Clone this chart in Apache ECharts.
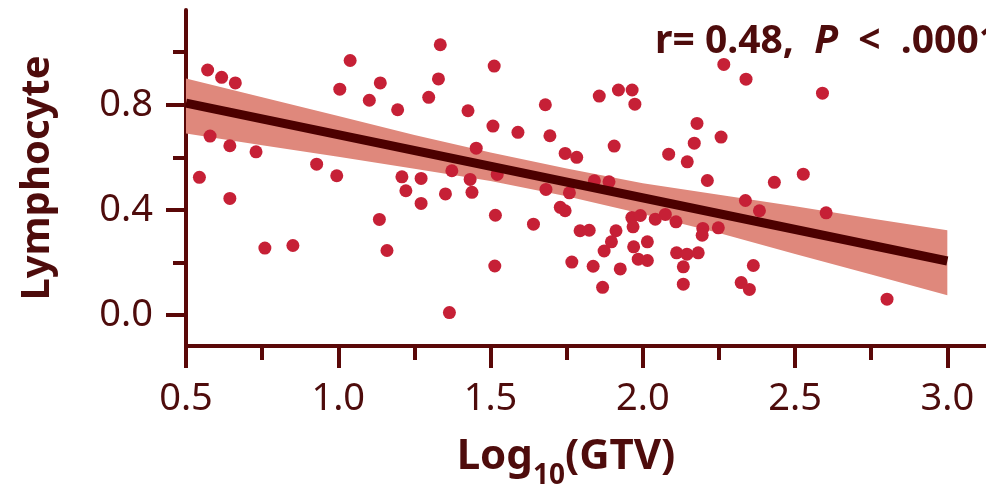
<!DOCTYPE html>
<html>
<head>
<meta charset="utf-8">
<title>Lymphocyte vs Log10(GTV)</title>
<script src="https://cdn.jsdelivr.net/npm/echarts@6/dist/echarts.min.js"></script>
<style>
  html, body { margin: 0; padding: 0; background: #fff; }
  #chart { width: 986px; height: 488px; }
</style>
</head>
<body>
<div id="chart"></div>
<script>
// points: log10(GTV) and lymphocyte value
var gtvLog = [
  0.544, 0.571, 0.617, 0.662, 0.579, 0.644, 0.644, 0.730, 0.759, 0.851,
  0.929, 0.995, 1.005, 1.039, 1.102, 1.138, 1.135, 1.160, 1.195, 1.209,
  1.222, 1.272, 1.272, 1.297, 1.329, 1.335, 1.352, 1.373, 1.365, 1.426,
  1.433, 1.439, 1.453, 1.508, 1.512, 1.516, 1.522, 1.514, 1.590, 1.641,
  1.680, 1.695, 1.682, 1.745, 1.729, 1.745, 1.759, 1.783, 1.767, 1.794,
  1.824, 1.837, 1.841, 1.857, 1.868, 1.873, 1.889, 1.897, 1.906, 1.912,
  1.920, 1.926, 1.964, 1.965, 1.970, 1.968, 1.974, 1.985, 1.992, 2.015,
  2.015, 2.041, 2.074, 2.085, 2.109, 2.111, 2.133, 2.133, 2.146, 2.145,
  2.169, 2.178, 2.182, 2.197, 2.195, 2.212, 2.248, 2.257, 2.266, 2.323,
  2.337, 2.339, 2.350, 2.363, 2.383, 2.432, 2.527, 2.590, 2.602, 2.802
]
var lymphocyte = [
  0.524, 0.932, 0.904, 0.883, 0.681, 0.644, 0.444, 0.621, 0.255, 0.265,
  0.574, 0.530, 0.859, 0.968, 0.817, 0.883, 0.364, 0.246, 0.781, 0.526,
  0.473, 0.520, 0.425, 0.828, 0.898, 1.028, 0.461, 0.549, 0.010, 0.777,
  0.516, 0.467, 0.635, 0.719, 0.947, 0.380, 0.535, 0.187, 0.695, 0.346,
  0.800, 0.682, 0.478, 0.615, 0.410, 0.397, 0.465, 0.600, 0.202, 0.321,
  0.323, 0.186, 0.511, 0.833, 0.106, 0.244, 0.507, 0.279, 0.643, 0.321,
  0.856, 0.176, 0.371, 0.856, 0.260, 0.336, 0.802, 0.213, 0.379, 0.208,
  0.279, 0.365, 0.383, 0.612, 0.355, 0.237, 0.184, 0.118, 0.583, 0.232,
  0.654, 0.729, 0.237, 0.330, 0.304, 0.512, 0.332, 0.677, 0.953, 0.124,
  0.436, 0.897, 0.098, 0.189, 0.397, 0.505, 0.536, 0.844, 0.389, 0.061
]

// fitted line end points
var fitX = [0.5, 3.0]
var fitY = [0.806, 0.206]

// confidence band edges
var bandX = [0.5, 0.75, 1.0, 1.25, 1.5, 1.75, 2.0, 2.25, 2.5, 2.75, 3.0]
var bandUpper = [0.900, 0.828, 0.757, 0.685, 0.618, 0.558, 0.502, 0.458, 0.414, 0.368, 0.323]
var bandLower = [0.691, 0.646, 0.602, 0.557, 0.510, 0.452, 0.385, 0.312, 0.233, 0.155, 0.076]

// ticks
var xMajorTicks = [0.5, 1.0, 1.5, 2.0, 2.5, 3.0]
var xMinorTicks = [0.75, 1.25, 1.75, 2.25, 2.75]
var yMajorTicks = [0.0, 0.4, 0.8]
var yMinorTicks = [0.2, 0.6, 1.0]

var AXIS_COLOR = '#5a0808'
var TEXT_COLOR = '#4e0c0c'
var FONT = '"Noto Sans", "DejaVu Sans", sans-serif'

var chart = echarts.init(document.getElementById('chart'), null, { renderer: 'canvas' })

var points = gtvLog.map(function (x, i) { return [x, lymphocyte[i]] })
var bandData = bandX.map(function (x, i) { return [x, bandLower[i], bandUpper[i]] })
var fitData = fitX.map(function (x, i) { return [x, fitY[i]] })

var xMin = 0.5
var xMax = 3.127
var yMin = -0.117
var yMax = 1.16

// draws the whole band once, as one polygon, through the axis scales
function renderBand(params, api) {
  if (params.dataIndex !== 0) return null
  var upper = []
  var lower = []
  for (var i = 0; i < bandX.length; i++) {
    upper.push(api.coord([bandX[i], bandUpper[i]]))
    lower.unshift(api.coord([bandX[i], bandLower[i]]))
  }
  return {
    type: 'polygon',
    shape: { points: upper.concat(lower) },
    style: { fill: '#df887c' },
    silent: true
  }
}

function axisBase(extra) {
  return Object.assign({
    type: 'value',
    splitLine: { show: false },
    axisPointer: { show: false }
  }, extra)
}

var hiddenLine = { show: true, onZero: false, lineStyle: { color: AXIS_COLOR, width: 0, opacity: 0 } }

var option = {
  animation: false,
  backgroundColor: '#ffffff',
  grid: { left: 186, right: 0, top: 10, bottom: 142, containLabel: false, outerBoundsMode: 'none' },
  xAxis: [
    axisBase({
      position: 'bottom',
      min: xMin,
      max: xMax,
      axisLine: { show: true, onZero: false, lineStyle: { color: AXIS_COLOR, width: 4 } },
      axisTick: { show: true, customValues: xMajorTicks, length: 22, lineStyle: { color: AXIS_COLOR, width: 4 } },
      axisLabel: {
        customValues: xMajorTicks,
        margin: 34,
        color: TEXT_COLOR,
        fontFamily: FONT,
        fontSize: 38,
        formatter: function (v) { return v.toFixed(1) }
      },
      name: '{b|Log}{s|10}{b|(GTV)}',
      nameLocation: 'middle',
      nameGap: 80,
      nameTextStyle: {
        padding: [0, 40, 0, 0],
        rich: {
          b: { fontFamily: FONT, fontWeight: 'bold', fontSize: 42, lineHeight: 62, color: TEXT_COLOR },
          s: { fontFamily: FONT, fontWeight: 'bold', fontSize: 28, lineHeight: 26, verticalAlign: 'top', padding: [36, 0, 0, 0], color: TEXT_COLOR }
        }
      }
    }),
    axisBase({
      position: 'bottom',
      offset: 0,
      min: xMin,
      max: xMax,
      axisLine: hiddenLine,
      axisTick: { show: true, customValues: xMinorTicks, length: 14, lineStyle: { color: AXIS_COLOR, width: 4 } },
      axisLabel: { show: false }
    })
  ],
  yAxis: [
    axisBase({
      position: 'left',
      min: yMin,
      max: yMax,
      axisLine: { show: true, onZero: false, lineStyle: { color: AXIS_COLOR, width: 4 } },
      axisTick: { show: true, customValues: yMajorTicks, length: 20, lineStyle: { color: AXIS_COLOR, width: 4 } },
      axisLabel: {
        customValues: yMajorTicks,
        margin: 33,
        color: TEXT_COLOR,
        fontFamily: FONT,
        fontSize: 38,
        formatter: function (v) { return v.toFixed(1) }
      },
      name: 'Lymphocyte',
      nameLocation: 'middle',
      nameGap: 128,
      nameTextStyle: { fontFamily: FONT, fontWeight: 'bold', fontSize: 40, color: TEXT_COLOR }
    }),
    axisBase({
      position: 'left',
      offset: 0,
      min: yMin,
      max: yMax,
      axisLine: hiddenLine,
      axisTick: { show: true, customValues: yMinorTicks, length: 13, lineStyle: { color: AXIS_COLOR, width: 4 } },
      axisLabel: { show: false }
    })
  ],
  series: [
    {
      name: 'band',
      type: 'custom',
      renderItem: renderBand,
      data: bandData,
      encode: { x: 0, y: [1, 2] },
      silent: true,
      z: 1
    },
    {
      name: 'points',
      type: 'scatter',
      data: points,
      symbol: 'circle',
      symbolSize: 13,
      itemStyle: { color: '#c62036', opacity: 1 },
      z: 2
    },
    {
      name: 'fit',
      type: 'line',
      data: fitData,
      symbol: 'none',
      lineStyle: { color: '#4c0000', width: 9, cap: 'butt' },
      z: 3
    }
  ],
  graphic: [
    {
      type: 'text',
      left: 655,
      top: 22,
      style: {
        text: '{n|r= 0.48,  }{i|P}{n|  <  .0001}',
        rich: {
          n: { fontFamily: FONT, fontWeight: 'bold', fontSize: 39, fill: TEXT_COLOR },
          i: { fontFamily: FONT, fontWeight: 'bold', fontStyle: 'italic', fontSize: 39, fill: TEXT_COLOR }
        }
      },
      z: 10
    }
  ]
}

chart.setOption(option)
</script>
</body>
</html>
